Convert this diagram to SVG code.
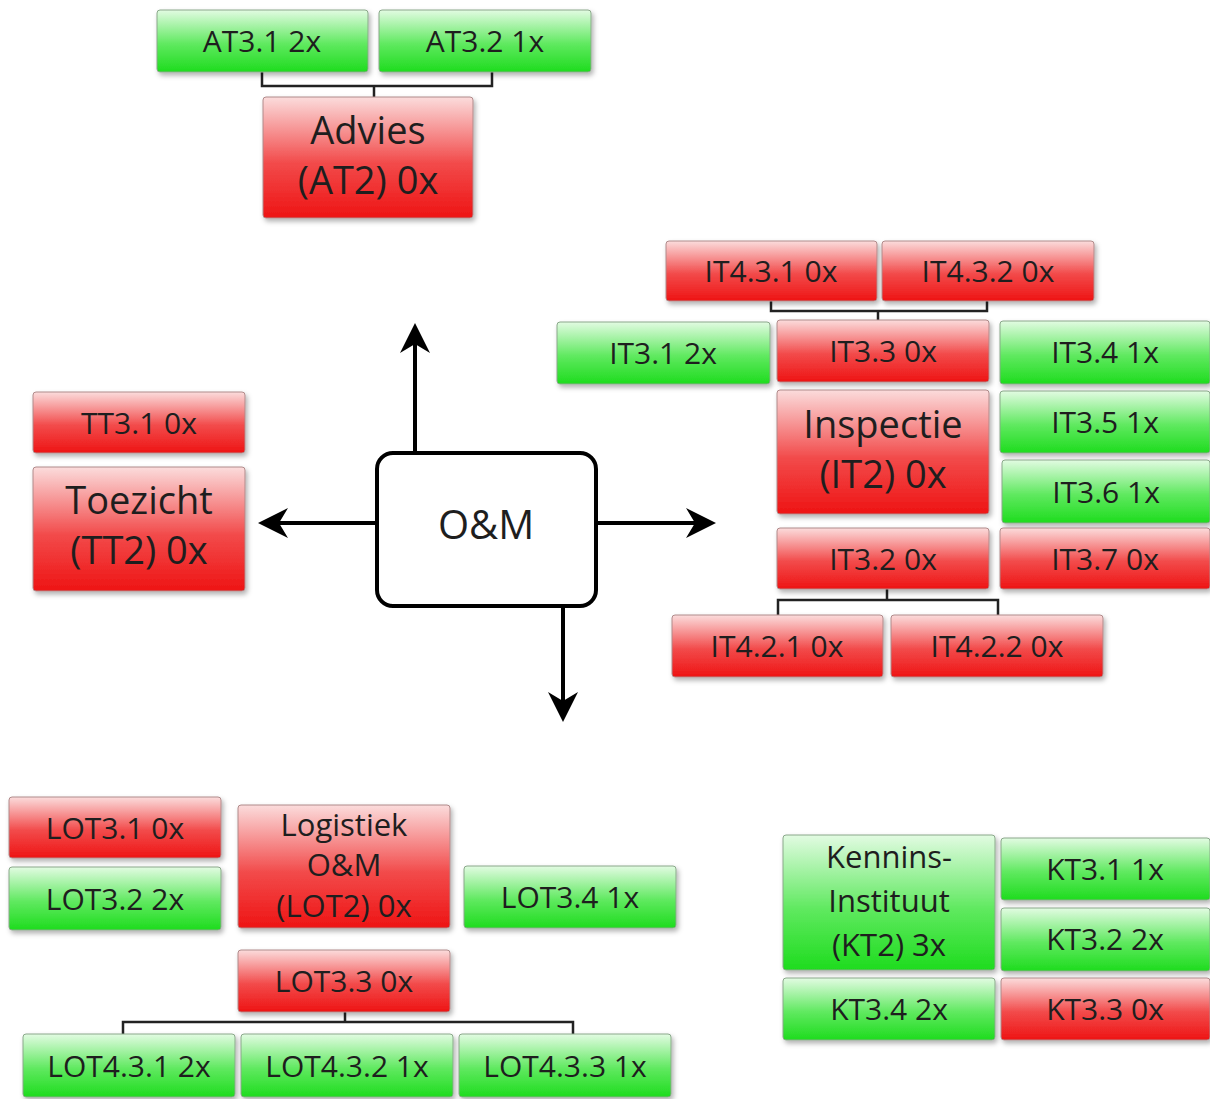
<svg xmlns="http://www.w3.org/2000/svg" width="1210" height="1099" viewBox="0 0 1210 1099">
<defs>
<linearGradient id="gr" x1="0" y1="0" x2="0" y2="1">
<stop offset="0" stop-color="#fbdcdc"/>
<stop offset="0.55" stop-color="#f24a4a"/>
<stop offset="1" stop-color="#ee1414"/>
</linearGradient>
<linearGradient id="gg" x1="0" y1="0" x2="0" y2="1">
<stop offset="0" stop-color="#e2fbe2"/>
<stop offset="0.55" stop-color="#5fe95f"/>
<stop offset="1" stop-color="#1edc1e"/>
</linearGradient>
<filter id="sh" x="-10%" y="-10%" width="125%" height="130%">
<feDropShadow dx="2" dy="3" stdDeviation="2.5" flood-color="#000" flood-opacity="0.3"/>
</filter>
<marker id="ah" viewBox="0 0 30 30" markerWidth="30" markerHeight="30" refX="16" refY="15" orient="auto" markerUnits="userSpaceOnUse">
<path d="M0,0 L30,15 L0,30 L9,15 Z" fill="#000"/>
</marker>
</defs>
<style>
.r{fill:url(#gr);stroke:#b08a8a;stroke-width:1;filter:url(#sh)}
.g{fill:url(#gg);stroke:#8aa88a;stroke-width:1;filter:url(#sh)}
text{font-family:"Open Sans","Noto Sans",sans-serif;fill:#1e1e1e;text-anchor:middle}
.s{font-size:30px}
.m{font-size:31px}
.b{font-size:38px}
.br{fill:none;stroke:#222;stroke-width:2.5}
.ar{fill:none;stroke:#000;stroke-width:4;marker-end:url(#ah)}
</style>
<rect width="1210" height="1099" fill="#fff"/>

<g id="connectors">
<path class="br" d="M262,72 V86 H492 V72 M374,86 V97"/>
<path class="br" d="M771,301 V311 H987 V301 M878,311 V320"/>
<path class="br" d="M887,589 V600 M778,615 V600 H998 V615"/>
<path class="br" d="M345,1012 V1022 M123,1034 V1022 H573 V1034"/>
<path class="ar" d="M415,453 V337"/>
<path class="ar" d="M377,523 H272"/>
<path class="ar" d="M596,523 H702"/>
<path class="ar" d="M563,606 V708"/>
</g>

<g id="AT3.1"><rect class="g" x="157" y="10" width="211" height="62" rx="3"/><text class="s" x="262" y="52">AT3.1 2x</text></g>
<g id="AT3.2"><rect class="g" x="379" y="10" width="212" height="62" rx="3"/><text class="s" x="485" y="52">AT3.2 1x</text></g>
<g id="AT2"><rect class="r" x="263" y="97" width="210" height="121" rx="3"/><text class="b" x="368" y="144">Advies</text><text class="b" x="368" y="194">(AT2) 0x</text></g>

<g id="IT4.3.1"><rect class="r" x="666" y="241" width="211" height="60" rx="3"/><text class="s" x="771" y="282">IT4.3.1 0x</text></g>
<g id="IT4.3.2"><rect class="r" x="882" y="241" width="212" height="60" rx="3"/><text class="s" x="988" y="282">IT4.3.2 0x</text></g>
<g id="IT3.1"><rect class="g" x="557" y="322" width="213" height="62" rx="3"/><text class="s" x="663" y="364">IT3.1 2x</text></g>
<g id="IT3.3"><rect class="r" x="777" y="320" width="212" height="62" rx="3"/><text class="s" x="883" y="362">IT3.3 0x</text></g>
<g id="IT3.4"><rect class="g" x="1000" y="321" width="210" height="63" rx="3"/><text class="s" x="1105" y="363">IT3.4 1x</text></g>
<g id="IT2"><rect class="r" x="777" y="390" width="212" height="124" rx="3"/><text class="b" x="883" y="438">Inspectie</text><text class="b" x="883" y="488">(IT2) 0x</text></g>
<g id="IT3.5"><rect class="g" x="1000" y="391" width="210" height="62" rx="3"/><text class="s" x="1105" y="433">IT3.5 1x</text></g>
<g id="IT3.6"><rect class="g" x="1002" y="460" width="208" height="63" rx="3"/><text class="s" x="1106" y="503">IT3.6 1x</text></g>
<g id="IT3.2"><rect class="r" x="777" y="528" width="212" height="61" rx="3"/><text class="s" x="883" y="570">IT3.2 0x</text></g>
<g id="IT3.7"><rect class="r" x="1000" y="528" width="210" height="61" rx="3"/><text class="s" x="1105" y="570">IT3.7 0x</text></g>
<g id="IT4.2.1"><rect class="r" x="672" y="615" width="211" height="62" rx="3"/><text class="s" x="777" y="657">IT4.2.1 0x</text></g>
<g id="IT4.2.2"><rect class="r" x="891" y="615" width="212" height="62" rx="3"/><text class="s" x="997" y="657">IT4.2.2 0x</text></g>

<g id="TT3.1"><rect class="r" x="33" y="392" width="212" height="61" rx="3"/><text class="s" x="139" y="434">TT3.1 0x</text></g>
<g id="TT2"><rect class="r" x="33" y="467" width="212" height="124" rx="3"/><text class="b" x="139" y="514">Toezicht</text><text class="b" x="139" y="564">(TT2) 0x</text></g>

<g id="OM"><rect x="377" y="453" width="219" height="153" rx="16" fill="#fff" stroke="#000" stroke-width="4"/><text x="486" y="539" style="font-size:40px">O&amp;M</text></g>

<g id="LOT3.1"><rect class="r" x="9" y="797" width="212" height="61" rx="3"/><text class="s" x="115" y="839">LOT3.1 0x</text></g>
<g id="LOT3.2"><rect class="g" x="9" y="867" width="212" height="63" rx="3"/><text class="s" x="115" y="910">LOT3.2 2x</text></g>
<g id="LOT2"><rect class="r" x="238" y="805" width="212" height="123" rx="3"/><text class="m" x="344" y="836">Logistiek</text><text class="m" x="344" y="876">O&amp;M</text><text class="m" x="344" y="917">(LOT2) 0x</text></g>
<g id="LOT3.4"><rect class="g" x="464" y="866" width="212" height="62" rx="3"/><text class="s" x="570" y="908">LOT3.4 1x</text></g>
<g id="LOT3.3"><rect class="r" x="238" y="950" width="212" height="62" rx="3"/><text class="s" x="344" y="992">LOT3.3 0x</text></g>
<g id="LOT4.3.1"><rect class="g" x="23" y="1034" width="212" height="63" rx="3"/><text class="s" x="129" y="1077">LOT4.3.1 2x</text></g>
<g id="LOT4.3.2"><rect class="g" x="241" y="1034" width="212" height="63" rx="3"/><text class="s" x="347" y="1077">LOT4.3.2 1x</text></g>
<g id="LOT4.3.3"><rect class="g" x="459" y="1034" width="212" height="63" rx="3"/><text class="s" x="565" y="1077">LOT4.3.3 1x</text></g>

<g id="KT2"><rect class="g" x="783" y="835" width="212" height="135" rx="3"/><text class="m" x="889" y="868">Kennins-</text><text class="m" x="889" y="912">Instituut</text><text class="m" x="889" y="956">(KT2) 3x</text></g>
<g id="KT3.1"><rect class="g" x="1001" y="838" width="209" height="62" rx="3"/><text class="s" x="1105" y="880">KT3.1 1x</text></g>
<g id="KT3.2"><rect class="g" x="1001" y="908" width="209" height="63" rx="3"/><text class="s" x="1105" y="950">KT3.2 2x</text></g>
<g id="KT3.4"><rect class="g" x="783" y="978" width="212" height="62" rx="3"/><text class="s" x="889" y="1020">KT3.4 2x</text></g>
<g id="KT3.3"><rect class="r" x="1001" y="978" width="209" height="62" rx="3"/><text class="s" x="1105" y="1020">KT3.3 0x</text></g>
</svg>
